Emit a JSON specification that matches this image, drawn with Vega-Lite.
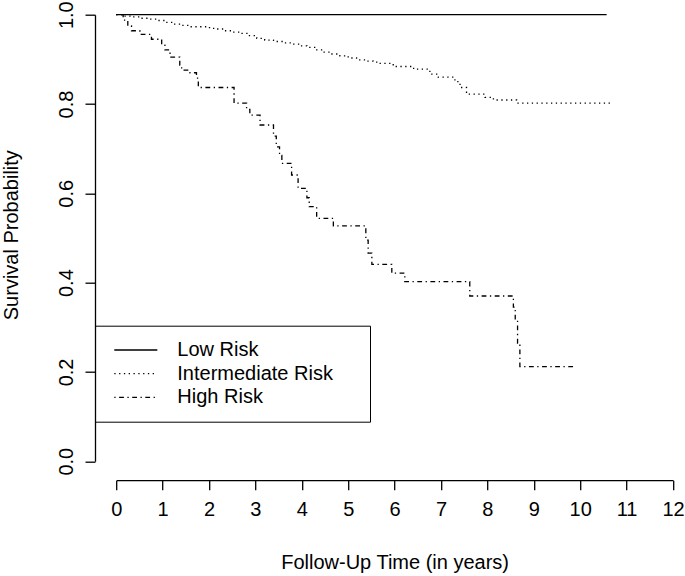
{
  "$schema": "https://vega.github.io/schema/vega-lite/v6.json",
  "autosize": {"type": "none"},
  "padding": {"left": 116.2, "top": 14.7, "right": 12, "bottom": 114.8},
  "width": 556.8,
  "height": 446.5,
  "background": "white",
  "config": {
    "view": {"stroke": null},
    "font": "Liberation Sans",
    "axis": {
      "grid": false,
      "domainColor": "black",
      "domainWidth": 1.3,
      "tickColor": "black",
      "tickWidth": 1.3,
      "labelColor": "black",
      "labelFont": "Liberation Sans",
      "labelFontSize": 20,
      "titleFont": "Liberation Sans",
      "titleFontSize": 20,
      "titleFontWeight": "normal",
      "titleColor": "black",
      "labelFlush": false,
      "labelOverlap": false
    },
    "legend": {
      "labelFont": "Liberation Sans",
      "labelFontSize": 20,
      "labelColor": "black",
      "titleFont": "Liberation Sans",
      "titleFontSize": 20
    }
  },
  "data": {
    "values": [
      {"group": "Low Risk", "t": 0, "s": 1.0},
      {"group": "Low Risk", "t": 10.57, "s": 1.0},

      {"group": "Intermediate Risk", "t": 0, "s": 1.0},
      {"group": "Intermediate Risk", "t": 0.15, "s": 0.997},
      {"group": "Intermediate Risk", "t": 0.3, "s": 0.995},
      {"group": "Intermediate Risk", "t": 0.51, "s": 0.992},
      {"group": "Intermediate Risk", "t": 0.7, "s": 0.99},
      {"group": "Intermediate Risk", "t": 0.87, "s": 0.987},
      {"group": "Intermediate Risk", "t": 1.05, "s": 0.983},
      {"group": "Intermediate Risk", "t": 1.23, "s": 0.979},
      {"group": "Intermediate Risk", "t": 1.4, "s": 0.976},
      {"group": "Intermediate Risk", "t": 1.59, "s": 0.973},
      {"group": "Intermediate Risk", "t": 1.95, "s": 0.971},
      {"group": "Intermediate Risk", "t": 2.1, "s": 0.968},
      {"group": "Intermediate Risk", "t": 2.31, "s": 0.964},
      {"group": "Intermediate Risk", "t": 2.5, "s": 0.961},
      {"group": "Intermediate Risk", "t": 2.67, "s": 0.958},
      {"group": "Intermediate Risk", "t": 2.85, "s": 0.953},
      {"group": "Intermediate Risk", "t": 3.03, "s": 0.947},
      {"group": "Intermediate Risk", "t": 3.2, "s": 0.943},
      {"group": "Intermediate Risk", "t": 3.39, "s": 0.94},
      {"group": "Intermediate Risk", "t": 3.6, "s": 0.937},
      {"group": "Intermediate Risk", "t": 3.75, "s": 0.934},
      {"group": "Intermediate Risk", "t": 3.95, "s": 0.93},
      {"group": "Intermediate Risk", "t": 4.11, "s": 0.927},
      {"group": "Intermediate Risk", "t": 4.3, "s": 0.921},
      {"group": "Intermediate Risk", "t": 4.46, "s": 0.916},
      {"group": "Intermediate Risk", "t": 4.65, "s": 0.912},
      {"group": "Intermediate Risk", "t": 4.82, "s": 0.908},
      {"group": "Intermediate Risk", "t": 5.0, "s": 0.903},
      {"group": "Intermediate Risk", "t": 5.18, "s": 0.899},
      {"group": "Intermediate Risk", "t": 5.35, "s": 0.896},
      {"group": "Intermediate Risk", "t": 5.54, "s": 0.894},
      {"group": "Intermediate Risk", "t": 5.69, "s": 0.891},
      {"group": "Intermediate Risk", "t": 5.97, "s": 0.884},
      {"group": "Intermediate Risk", "t": 6.41, "s": 0.878},
      {"group": "Intermediate Risk", "t": 6.76, "s": 0.867},
      {"group": "Intermediate Risk", "t": 6.94, "s": 0.86},
      {"group": "Intermediate Risk", "t": 7.3, "s": 0.85},
      {"group": "Intermediate Risk", "t": 7.41, "s": 0.837},
      {"group": "Intermediate Risk", "t": 7.55, "s": 0.822},
      {"group": "Intermediate Risk", "t": 7.95, "s": 0.815},
      {"group": "Intermediate Risk", "t": 8.13, "s": 0.809},
      {"group": "Intermediate Risk", "t": 8.63, "s": 0.802},
      {"group": "Intermediate Risk", "t": 10.71, "s": 0.802},

      {"group": "High Risk", "t": 0, "s": 1.0},
      {"group": "High Risk", "t": 0.15, "s": 0.988},
      {"group": "High Risk", "t": 0.25, "s": 0.975},
      {"group": "High Risk", "t": 0.33, "s": 0.964},
      {"group": "High Risk", "t": 0.51, "s": 0.956},
      {"group": "High Risk", "t": 0.76, "s": 0.945},
      {"group": "High Risk", "t": 0.98, "s": 0.932},
      {"group": "High Risk", "t": 1.05, "s": 0.921},
      {"group": "High Risk", "t": 1.16, "s": 0.905},
      {"group": "High Risk", "t": 1.37, "s": 0.887},
      {"group": "High Risk", "t": 1.41, "s": 0.876},
      {"group": "High Risk", "t": 1.59, "s": 0.87},
      {"group": "High Risk", "t": 1.73, "s": 0.858},
      {"group": "High Risk", "t": 1.77, "s": 0.837},
      {"group": "High Risk", "t": 2.54, "s": 0.802},
      {"group": "High Risk", "t": 2.81, "s": 0.788},
      {"group": "High Risk", "t": 2.88, "s": 0.775},
      {"group": "High Risk", "t": 3.1, "s": 0.753},
      {"group": "High Risk", "t": 3.39, "s": 0.728},
      {"group": "High Risk", "t": 3.45, "s": 0.704},
      {"group": "High Risk", "t": 3.52, "s": 0.685},
      {"group": "High Risk", "t": 3.57, "s": 0.667},
      {"group": "High Risk", "t": 3.78, "s": 0.641},
      {"group": "High Risk", "t": 3.92, "s": 0.611},
      {"group": "High Risk", "t": 4.11, "s": 0.59},
      {"group": "High Risk", "t": 4.16, "s": 0.57},
      {"group": "High Risk", "t": 4.32, "s": 0.544},
      {"group": "High Risk", "t": 4.68, "s": 0.527},
      {"group": "High Risk", "t": 5.38, "s": 0.495},
      {"group": "High Risk", "t": 5.43, "s": 0.466},
      {"group": "High Risk", "t": 5.51, "s": 0.441},
      {"group": "High Risk", "t": 5.94, "s": 0.421},
      {"group": "High Risk", "t": 6.22, "s": 0.402},
      {"group": "High Risk", "t": 7.62, "s": 0.37},
      {"group": "High Risk", "t": 8.56, "s": 0.345},
      {"group": "High Risk", "t": 8.6, "s": 0.316},
      {"group": "High Risk", "t": 8.65, "s": 0.264},
      {"group": "High Risk", "t": 8.7, "s": 0.212},
      {"group": "High Risk", "t": 9.85, "s": 0.212}
    ]
  },
  "mark": {"type": "line", "interpolate": "step-after", "color": "black", "strokeWidth": 1.3},
  "encoding": {
    "x": {
      "field": "t",
      "type": "quantitative",
      "scale": {"domain": [0, 12], "nice": false, "zero": false},
      "axis": {
        "values": [0, 1, 2, 3, 4, 5, 6, 7, 8, 9, 10, 11, 12],
        "format": "d",
        "offset": 19,
        "tickSize": 9.5,
        "labelPadding": 9.5,
        "labelBaseline": "top",
        "title": "Follow-Up Time (in years)",
        "titleBaseline": "alphabetic",
        "titleY": 88
      }
    },
    "y": {
      "field": "s",
      "type": "quantitative",
      "scale": {"domain": [0, 1], "nice": false, "zero": false},
      "axis": {
        "values": [0, 0.2, 0.4, 0.6, 0.8, 1.0],
        "format": ".1f",
        "offset": 21.2,
        "tickSize": 10,
        "labelAngle": -90,
        "labelAlign": "center",
        "labelBaseline": "alphabetic",
        "labelPadding": 13,
        "title": "Survival Probability",
        "titleBaseline": "alphabetic",
        "titleX": -78,
        "titleY": 220
      }
    },
    "strokeDash": {
      "field": "group",
      "type": "nominal",
      "scale": {
        "domain": ["Low Risk", "Intermediate Risk", "High Risk"],
        "range": [[1, 0], [1.3, 3.5], [1.3, 3.5, 4.8, 3.5]]
      },
      "legend": {
        "orient": "none",
        "legendX": -21.2,
        "legendY": 311,
        "title": " ",
        "titleOrient": "right",
        "titlePadding": 22,
        "strokeColor": "black",
        "padding": 14.3,
        "rowPadding": 3.7,
        "symbolType": "M0,0H10",
        "symbolSize": 74,
        "symbolStrokeWidth": 1.3,
        "symbolStrokeColor": "black",
        "symbolOffset": -5,
        "labelOffset": 53
      }
    }
  }
}
